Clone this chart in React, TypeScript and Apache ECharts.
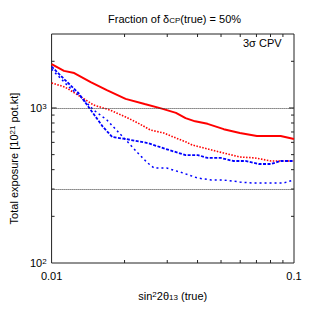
import React, { useEffect, useRef } from "react";
import * as echarts from "echarts";

// sin^2 2theta13 (true) vs total exposure [10^21 pot.kt]
const redSolidX = [0.01, 0.01125, 0.0124, 0.0145, 0.0169, 0.0202, 0.0242, 0.0285, 0.0326, 0.0357, 0.0391, 0.044, 0.0513, 0.0598, 0.0703, 0.0881, 0.1];
const redSolidY = [1920, 1735, 1680, 1470, 1305, 1145, 1060, 990, 930, 860, 820, 790, 730, 690, 660, 660, 630];

const redDotX = [0.01, 0.01135, 0.0132, 0.0149, 0.0174, 0.0202, 0.0227, 0.0256, 0.029, 0.0318, 0.0357, 0.038, 0.044, 0.0513, 0.0598, 0.069, 0.0804, 0.1];
const redDotY = [1450, 1365, 1180, 1045, 970, 875, 800, 720, 690, 650, 605, 577, 544, 512, 483, 476, 455, 455];

const blueDashX = [0.01, 0.01135, 0.0129, 0.0145, 0.0163, 0.0178, 0.0202, 0.0249, 0.0306, 0.0357, 0.0401, 0.044, 0.0499, 0.0561, 0.063, 0.0715, 0.0804, 0.0881, 0.1];
const blueDashY = [1850, 1517, 1250, 971, 754, 650, 631, 594, 535, 497, 497, 476, 476, 455, 455, 435, 435, 455, 455];

const blueDotX = [0.01, 0.0118, 0.0132, 0.0149, 0.0169, 0.0185, 0.0208, 0.0227, 0.0249, 0.0265, 0.0298, 0.0348, 0.0367, 0.0401, 0.0456, 0.0513, 0.0598, 0.0672, 0.0804, 0.0903, 0.1];
const blueDotY = [1780, 1365, 1177, 971, 837, 721, 594, 512, 442, 410, 410, 381, 370, 353, 343, 343, 333, 328, 328, 328, 343];

const refLevels = [1000, 300];
const xMinorTicks = [0.02, 0.03, 0.04, 0.05, 0.06, 0.07, 0.08, 0.09];
const yMinorTicks = [200, 300, 400, 500, 600, 700, 800, 900, 2000];
const yMajorTicks = [1000];

const zip = (xs: number[], ys: number[]) => xs.map((x, i) => [x, ys[i]]);

const FONT = "'Liberation Sans', Arial, Helvetica, sans-serif";
const INK = "#222";

export default function App() {
  const ref = useRef<HTMLDivElement>(null);
  useEffect(() => {
    const chart = echarts.init(ref.current!, null, { renderer: "svg" });

    const tickData = [
      ...xMinorTicks.map((v) => [v, 1000, 0, 3]),
      ...yMinorTicks.map((v) => [0.03, v, 1, 3]),
      ...yMajorTicks.map((v) => [0.03, v, 1, 5]),
    ];

    const powLabel = (v: number) => {
      const e = Math.log10(v);
      if (Math.abs(e - Math.round(e)) > 1e-6) return "";
      return `10{sup|${Math.round(e)}}`;
    };

    chart.setOption({
      animation: false,
      backgroundColor: "#fff",
      textStyle: { fontFamily: FONT },
      title: {
        text: "Fraction of δ{sub|CP}(true) = 50%",
        left: 103,
        top: 8,
        textStyle: {
          fontSize: 11,
          fontWeight: "normal",
          color: "#000",
          fontFamily: FONT,
          rich: {
            sub: { fontSize: 8, verticalAlign: "bottom", lineHeight: 8, padding: [6, 0, 0, 0], fontFamily: FONT, color: "#000" },
          },
        },
      },
      graphic: [
        {
          type: "text",
          left: 243,
          top: 37,
          style: { text: "3σ CPV", fontSize: 11, fontFamily: FONT, fill: "#000" },
        },
      ],
      grid: { left: 39, right: 19, top: 34, bottom: 50, show: true, borderColor: INK, borderWidth: 1, backgroundColor: "transparent" },
      xAxis: {
        type: "log",
        logBase: 10,
        min: 0.01,
        max: 0.1,
        axisLine: { show: false },
        axisTick: { show: false },
        splitLine: { show: false },
        axisLabel: {
          margin: 7,
          fontSize: 11,
          color: "#000",
          fontFamily: FONT,
          formatter: (v: number) => {
            const e = Math.round(Math.log10(v));
            if (Math.abs(Math.log10(v) - e) > 1e-6) return "";
            return e === -2 ? "0.01" : e === -1 ? "0.1" : "";
          },
        },
        name: "sin{sup|2}2θ{sub|13} (true)",
        nameLocation: "middle",
        nameGap: 27,
        nameTextStyle: {
          fontSize: 11,
          color: "#000",
          fontFamily: FONT,
          rich: {
            sup: { fontSize: 8, verticalAlign: "top", lineHeight: 8, fontFamily: FONT, color: "#000" },
            sub: { fontSize: 8, verticalAlign: "bottom", lineHeight: 8, padding: [6, 0, 0, 0], fontFamily: FONT, color: "#000" },
          },
        },
      },
      yAxis: {
        type: "log",
        logBase: 10,
        min: 100,
        max: 3000,
        axisLine: { show: false },
        axisTick: { show: false },
        splitLine: { show: false },
        axisLabel: {
          margin: 5,
          fontSize: 11,
          color: "#000",
          fontFamily: FONT,
          formatter: powLabel,
          rich: {
            sup: { fontSize: 8, verticalAlign: "top", lineHeight: 8, fontFamily: FONT, color: "#000" },
          },
        },
        name: "Total exposure [10{sup|21} pot.kt]",
        nameLocation: "middle",
        nameGap: 21,
        nameRotate: 90,
        nameTextStyle: {
          fontSize: 11,
          color: "#000",
          fontFamily: FONT,
          padding: [0, 20, 0, 0],
          rich: {
            sup: { fontSize: 8, verticalAlign: "top", lineHeight: 8, fontFamily: FONT, color: "#000" },
          },
        },
      },
      series: [
        {
          type: "line",
          data: zip(redSolidX, redSolidY),
          showSymbol: false,
          symbol: "none",
          lineStyle: { color: "#ff0000", width: 2 },
          markLine: {
            silent: true,
            symbol: "none",
            label: { show: false },
            lineStyle: { color: "#333", width: 1, type: [1, 1] },
            data: refLevels.map((v) => ({ yAxis: v })),
          },
        },
        {
          type: "line",
          data: zip(redDotX, redDotY),
          showSymbol: false,
          symbol: "none",
          lineStyle: { color: "#ff0000", width: 1.6, type: [1.5, 1.5] },
        },
        {
          type: "line",
          data: zip(blueDashX, blueDashY),
          showSymbol: false,
          symbol: "none",
          lineStyle: { color: "#0000ff", width: 1.8, type: [3, 1.5] },
        },
        {
          type: "line",
          data: zip(blueDotX, blueDotY),
          showSymbol: false,
          symbol: "none",
          lineStyle: { color: "#0000ff", width: 1.5, type: [2, 3] },
        },
        {
          type: "custom",
          coordinateSystem: "cartesian2d",
          silent: true,
          clip: false,
          encode: { x: 0, y: 1 },
          data: tickData,
          renderItem: (params: any, api: any) => {
            const cs = params.coordSys;
            const kind = api.value(2);
            const len = api.value(3);
            const p = api.coord([api.value(0), api.value(1)]);
            const style = { stroke: INK, lineWidth: 1 };
            if (kind === 0) {
              const b = cs.y + cs.height;
              return {
                type: "group",
                children: [
                  { type: "line", shape: { x1: p[0], y1: b, x2: p[0], y2: b - len }, style },
                  { type: "line", shape: { x1: p[0], y1: cs.y, x2: p[0], y2: cs.y + len }, style },
                ],
              };
            }
            const r = cs.x + cs.width;
            return {
              type: "group",
              children: [
                { type: "line", shape: { x1: cs.x, y1: p[1], x2: cs.x + len, y2: p[1] }, style },
                { type: "line", shape: { x1: r, y1: p[1], x2: r - len, y2: p[1] }, style },
              ],
            };
          },
        },
      ],
    });

    return () => chart.dispose();
  }, []);

  return <div ref={ref} style={{ position: "fixed", left: 0, top: 0, width: 313, height: 313 }} />;
}
